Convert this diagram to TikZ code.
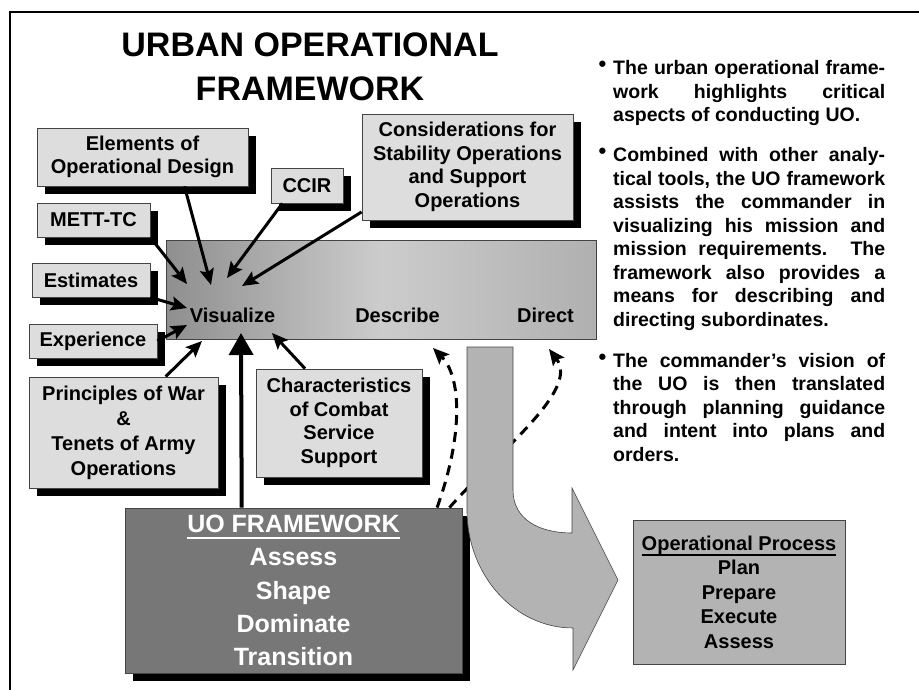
\documentclass[tikz,border=0pt]{standalone}
\usepackage{fontspec}
\setmainfont{Liberation Sans}
\usepackage{tikz}
\usetikzlibrary{arrows.meta,shadows}

\definecolor{boxgray}{HTML}{DDDDDD}
\definecolor{darkgray}{HTML}{777777}
\definecolor{midgray}{HTML}{B3B3B3}
\definecolor{edgegray}{HTML}{444444}
\newcommand{\ulbar}[1]{\setbox0\hbox{#1}\rlap{\rule[-6pt]{\wd0}{2pt}}\box0}
\newcommand{\bul}{\leavevmode\llap{\raisebox{3pt}{\fontsize{22}{22}\selectfont\textbullet}\hspace{7pt}}}

\begin{document}
\begin{tikzpicture}[x=1pt,y=-1pt]
		\useasboundingbox (0,0) rectangle (919,690);
		\draw[line width=2pt] (919,12) -- (10,12) -- (10,690);

		\node[font=\fontsize{34}{44}\selectfont\bfseries,align=center,anchor=north,inner sep=0pt] (title) at (310,33) {URBAN OPERATIONAL\\FRAMEWORK};

		% visualize / describe / direct
		\node[draw=edgegray,line width=0.6pt,left color=gray!88,right color=gray!62,middle color=gray!40,
		      minimum width=430pt,minimum height=99pt,inner sep=0pt] (vdd) at (381,289.5) {};
		\begin{scope}[every node/.style={anchor=base,inner sep=0pt,font=\fontsize{20}{23}\selectfont\bfseries}]
		    \node (vis) at (232.5,322) {Visualize};
		    \node (desc) at (397.5,322) {Describe};
		    \node (dir) at (545.5,322) {Direct};
		\end{scope}

		\begin{scope}[every node/.style={draw=edgegray,fill=boxgray,line width=0.8pt,inner sep=0pt,align=center,
		              font=\fontsize{20}{23.5}\selectfont\bfseries,
		              drop shadow={shadow xshift=8pt,shadow yshift=-8pt,fill=black,opacity=1}}]
		    \node[minimum width=211pt,minimum height=58pt] (elem) at (142.5,157) {Elements of\\Operational Design};
		    \node[minimum width=72pt,minimum height=35pt] (ccir) at (307,185.5) {CCIR};
		    \node[minimum width=211pt,minimum height=106pt] (stab) at (467.5,167) {Considerations for\\Stability Operations\\and Support\\Operations};
		    \node[minimum width=113pt,minimum height=34pt] (mett) at (93.5,220) {METT-TC};
		    \node[minimum width=118pt,minimum height=34pt] (est) at (91,280) {Estimates};
		    \node[minimum width=128pt,minimum height=34pt] (exper) at (93,341) {Experience};
		    \node[minimum width=189pt,minimum height=111pt,font=\fontsize{20}{25}\selectfont\bfseries] (princ) at (123.5,432.5) {Principles of War\\\&\\Tenets of Army\\Operations};
		    \node[minimum width=166pt,minimum height=108pt] (css) at (339,423) {Characteristics\\of Combat\\Service\\Support};
		    \node[fill=darkgray,text=white,minimum width=337pt,minimum height=165pt,font=\fontsize{25}{33.3}\selectfont\bfseries] (uof) at (293.5,590.5) {\ulbar{UO FRAMEWORK}\\Assess\\Shape\\Dominate\\Transition};
		\end{scope}

		\coordinate (mett-tip) at (187,284);
		\coordinate (elem-tip) at (211,285);
		\coordinate (ccir-tip) at (227,278);
		\coordinate (stab-tip) at (242,286);
		\coordinate (est-tip) at (187,308);
		\coordinate (exper-tip) at (187,325);
		\coordinate (princ-tip) at (202,341);
		\coordinate (css-tip) at (272,333);
		\coordinate (uof-tip) at (241,333);
		\coordinate (desc-tip) at (433,348);
		\coordinate (dir-tip) at (549,349);

		\begin{scope}[>={Stealth[length=16pt,width=14pt,inset=3pt]},
		              every edge/.style={draw=black,line width=3pt}]
		    \path (mett.south east) edge[->] (mett-tip);
		    \path (elem.-35.6) edge[->] (elem-tip);
		    \path (ccir.216) edge[->] (ccir-tip);
		    \path (stab.203.6) edge[->] (stab-tip);
		    \path (est.south east) edge[->] (est-tip);
		    \path (exper.east) edge[->] (exper-tip);
		    \path (princ.53.2) edge[->] (princ-tip);
		    \path (css.122.2) edge[->] (css-tip);
		    \path (uof.122.5) edge[-{Triangle[length=22pt,width=24pt]},line width=4pt] (uof-tip);
		\end{scope}

		\draw[line width=3pt,dash pattern=on 10pt off 7pt,-{Stealth[length=16pt,width=14pt,inset=3pt]}]
		    (uof.30.8) .. controls (465,430) and (460,375) .. (desc-tip);
		\draw[line width=3pt,dash pattern=on 10pt off 7pt,-{Stealth[length=16pt,width=14pt,inset=3pt]}]
		    (uof.28.3) .. controls (500,450) and (580,390) .. (dir-tip);

		% bent arrow to the operational process
		\path[fill=midgray,draw=edgegray,line width=0.6pt] (467,347) -- (513,347) -- (513,490)
		    .. controls (513,520) and (540,533) .. (572,533) -- (572,488) -- (618,580) -- (573,670) -- (573,628)
		    .. controls (514.5,628) and (467,575) .. (467,510) -- cycle;

		\node[draw=edgegray,fill=midgray,line width=0.8pt,minimum width=212pt,minimum height=144pt,inner sep=0pt,align=center,
		      font=\fontsize{20}{24.5}\selectfont\bfseries] (oproc) at (739,592) {\ulbar{Operational Process}\\Plan\\Prepare\\Execute\\Assess};

		\begin{scope}[every node/.style={anchor=base west,text width=272pt,inner sep=0pt,align=justify,
		              font=\fontsize{19.5}{23.5}\selectfont\bfseries}]
		    \node (note1) at (613,75) {\bul The urban operational frame-\linebreak work highlights critical\linebreak aspects of conducting UO.};
		    \node (note2) at (613,162) {\bul Combined with other analy-\linebreak tical tools, the UO framework\linebreak assists the commander in\linebreak visualizing his mission and\linebreak mission requirements.\ \ The\linebreak framework also provides a\linebreak means for describing and\linebreak directing subordinates.};
		    \node (note3) at (613,367) {\bul The commander’s vision of\linebreak the UO is then translated\linebreak through planning guidance\linebreak and intent into plans and\linebreak orders.};
		\end{scope}
\end{tikzpicture}
\end{document}
